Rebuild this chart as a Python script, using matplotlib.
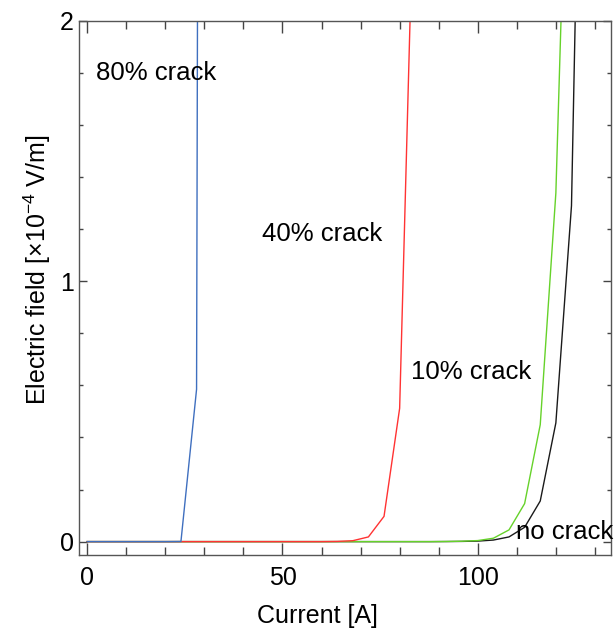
import matplotlib
matplotlib.use("Agg")
import matplotlib.pyplot as plt
from matplotlib.ticker import MultipleLocator

plt.rcParams['font.family'] = ['Liberation Sans', 'DejaVu Sans']
plt.rcParams['mathtext.fontset'] = 'custom'
plt.rcParams['mathtext.rm'] = 'Liberation Sans'

# Current sweeps (A) and electric field (x10^-4 V/m) for each crack level
current_no_crack = [0, 4, 8, 12, 16, 20, 24, 28, 32, 36, 40, 44, 48, 52, 56, 60, 64,
                    68, 72, 76, 80, 84, 88, 92, 96, 100, 104, 108, 112, 116, 120, 124, 128]
field_no_crack = [0, 0, 0, 0, 0, 0, 0, 0, 0, 0, 0, 0, 0, 0, 0, 0, 0,
                  0, 0, 0, 0, 0, 0, 0.0003, 0.0008, 0.002, 0.006, 0.018, 0.055, 0.156, 0.456, 1.29, 4.3]

current_10 = [0, 4, 8, 12, 16, 20, 24, 28, 32, 36, 40, 44, 48, 52, 56, 60, 64,
              68, 72, 76, 80, 84, 88, 92, 96, 100, 104, 108, 112, 116, 120, 124]
field_10 = [0, 0, 0, 0, 0, 0, 0, 0, 0, 0, 0, 0, 0, 0, 0, 0, 0,
            0, 0, 0, 0, 0, 0, 0.0005, 0.0015, 0.004, 0.013, 0.045, 0.146, 0.449, 1.339, 3.35]

current_40 = [0, 4, 8, 12, 16, 20, 24, 28, 32, 36, 40, 44, 48, 52, 56, 60, 64,
              68, 72, 76, 80, 84]
field_40 = [0, 0, 0, 0, 0, 0, 0, 0, 0, 0, 0, 0, 0, 0, 0, 0, 0.0007,
            0.0035, 0.018, 0.097, 0.512, 2.75]

current_80 = [0, 4, 8, 12, 16, 20, 24, 28, 32]
field_80 = [0, 0, 0, 0, 0, 0, 0.0005, 0.585, 25.0]

fig = plt.figure(figsize=(6.14, 6.32), dpi=100)
ax = fig.add_axes([0.129, 0.122, 0.866, 0.845])

ax.plot(current_no_crack, field_no_crack, color='#1a1a1a', lw=1.0)
ax.plot(current_10, field_10, color='#66d22a', lw=1.0)
ax.plot(current_40, field_40, color='#ff3333', lw=1.0)
ax.plot(current_80, field_80, color='#3f6fbf', lw=1.0)

ax.set_xlim(-2.05, 134.1)
ax.set_ylim(-0.051, 2.0)

ax.xaxis.set_major_locator(MultipleLocator(50))
ax.xaxis.set_minor_locator(MultipleLocator(10))
ax.yaxis.set_major_locator(MultipleLocator(1))
ax.yaxis.set_minor_locator(MultipleLocator(0.2))

for s in ax.spines.values():
    s.set_color('#555555')
    s.set_linewidth(1.0)

ax.tick_params(axis='both', which='both', direction='in', top=True, right=True,
               color='#444444', width=1.0, labelsize=18)
ax.tick_params(axis='x', which='major', length=8.4, pad=8)
ax.tick_params(axis='x', which='minor', length=5.6)
ax.tick_params(axis='y', which='major', length=6.0, pad=4)
ax.tick_params(axis='y', which='minor', length=3.0)

ax.set_xlabel('Current [A]', fontsize=18)
ax.set_ylabel('Electric field [×10$^{-4}$ V/m]', fontsize=18)
ax.xaxis.set_label_coords(0.448, -0.092)
ax.yaxis.set_label_coords(-0.05, 0.534)

text_kw = dict(fontsize=18.5, ha='left', va='center', color='black')
ax.text(2.15, 1.798, '80% crack', **text_kw)
ax.text(44.8, 1.183, '40% crack', **text_kw)
ax.text(82.8, 0.650, '10% crack', **text_kw)
ax.text(109.8, 0.036, 'no crack', **text_kw)

fig.savefig('out.png', dpi=100)
